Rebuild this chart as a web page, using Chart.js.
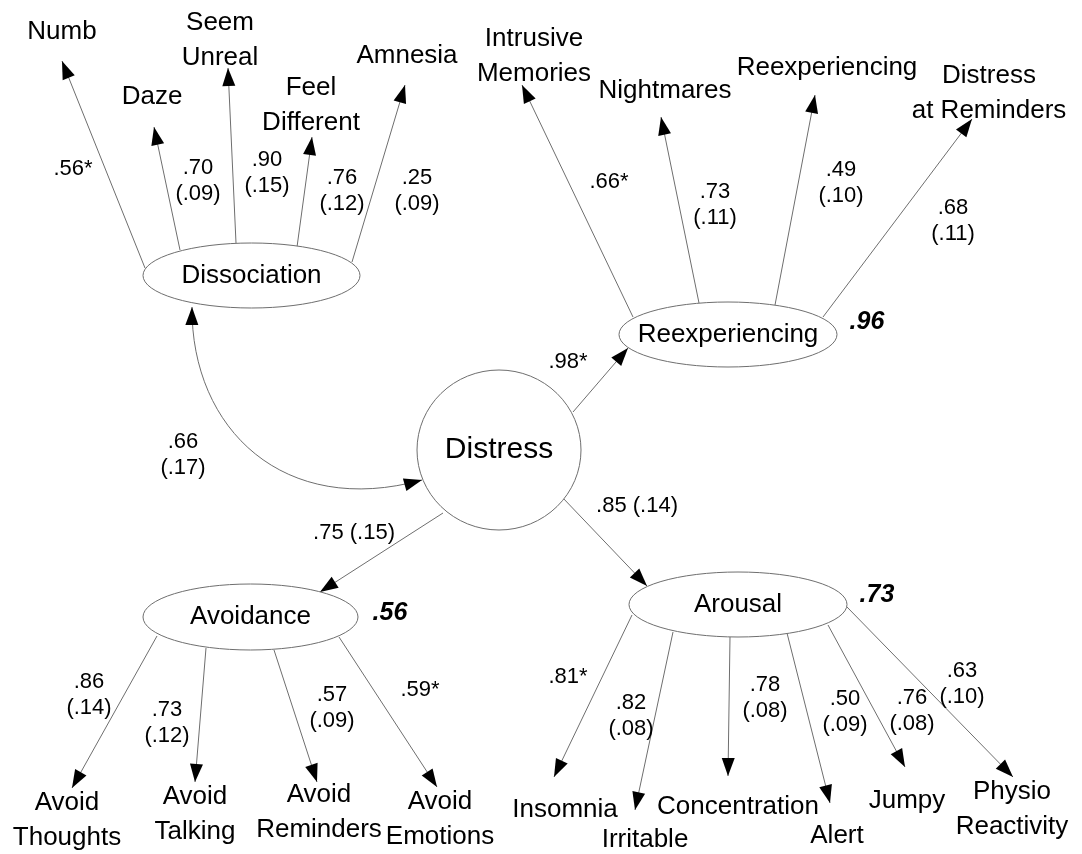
<!DOCTYPE html>
<html>
<head>
<meta charset="utf-8">
<script src="https://cdn.jsdelivr.net/npm/chart.js@4.4.1/dist/chart.umd.min.js"></script>
<style>
  html, body { margin: 0; padding: 0; background: #fff; }
  #wrap { width: 1082px; height: 854px; }
</style>
</head>
<body>
<div id="wrap"><canvas id="pathChart"></canvas></div>
<script>
// latent factors
const factorNames = ['Dissociation', 'Reexperiencing', 'Distress', 'Avoidance', 'Arousal'];
const factorR2 = ['', '.96', '', '.56', '.73'];

// structural paths out of Distress, and the Dissociation <-> Distress covariance
const pathLabels = ['.98*', '.75 (.15)', '.85 (.14)'];
const covLabel = ['.66', '(.17)'];

// observed indicators
const itemNames = ['Numb', 'Daze', 'Seem\nUnreal', 'Feel\nDifferent', 'Amnesia',
  'Intrusive\nMemories', 'Nightmares', 'Reexperiencing', 'Distress\nat Reminders',
  'Avoid\nThoughts', 'Avoid\nTalking', 'Avoid\nReminders', 'Avoid\nEmotions',
  'Insomnia', 'Irritable', 'Concentration', 'Alert', 'Jumpy', 'Physio\nReactivity'];
const itemLoadings = ['.56*', '.70', '.90', '.76', '.25',
  '.66*', '.73', '.49', '.68',
  '.86', '.73', '.57', '.59*',
  '.81*', '.82', '.78', '.50', '.76', '.63'];
const itemSE = ['', '(.09)', '(.15)', '(.12)', '(.09)',
  '', '(.11)', '(.10)', '(.11)',
  '(.14)', '(.12)', '(.09)', '',
  '', '(.08)', '(.08)', '(.09)', '(.08)', '(.10)'];

// layout, in figure units (0..1082 x 0..854)
const factorPos = [[251.5, 275.5], [728, 334.5], [499, 450], [250.5, 617], [738, 604.5]];
const factorSize = [[108.5, 32.5], [109, 32.5], [82, 80], [107.5, 33], [109, 32.5]];
const factorR2Pos = [null, [867, 322], null, [390, 613], [877, 595]];

const itemTextPos = [[62, 32], [152, 97], [220, 23], [311, 88], [407, 56],
  [534, 39], [665, 91], [827, 68], [989, 76],
  [67, 803], [195, 797], [319, 795], [440, 802],
  [565, 810], [645, 840], [738, 807], [837, 836], [907, 801], [1012, 792]];
const itemFrom = [[145, 268], [180, 250], [236, 243], [297, 247], [352, 262],
  [633, 317], [699, 303], [775, 305], [823, 317],
  [157, 636], [206, 648], [274, 650], [339, 637],
  [632, 615], [673, 632], [730, 637], [787, 633], [828, 625], [847, 607]];
const itemTo = [[62, 61], [154, 127], [228, 68], [312, 137], [405, 85],
  [522, 85], [661, 117], [815, 95], [972, 119],
  [72, 788], [195, 782], [317, 782], [437, 787],
  [554, 777], [635, 810], [728, 776], [830, 803], [905, 767], [1013, 777]];
const itemLabelPos = [[73, 169], [198, 168], [267, 160], [342, 178], [417, 178],
  [609, 182], [715, 192], [841, 170], [953, 208],
  [89, 682], [167, 710], [332, 695], [420, 690],
  [568, 677], [631, 703], [765, 685], [845, 699], [912, 698], [962, 671]];

const pathFrom = [[573, 412], [443, 513], [562, 497]];
const pathTo = [[628, 348], [320, 592], [647, 586]];
const pathLabelPos = [[568, 362], [354, 533], [637, 506]];

const covCurve = [[192, 307], [191, 430], [285, 518], [422, 480]];
const covLabelPos = [183, 442];

const lineColor = '#6e6e6e';
const fontFamily = "'Liberation Sans', Arial, sans-serif";

// one line dataset per straight arrow
const datasets = [];
itemFrom.forEach((p, i) => {
  datasets.push({
    data: [{ x: p[0], y: p[1] }, { x: itemTo[i][0], y: itemTo[i][1] }],
    showLine: true, borderColor: lineColor, borderWidth: 1, pointRadius: 0
  });
});
pathFrom.forEach((p, i) => {
  datasets.push({
    data: [{ x: p[0], y: p[1] }, { x: pathTo[i][0], y: pathTo[i][1] }],
    showLine: true, borderColor: lineColor, borderWidth: 1, pointRadius: 0
  });
});

function arrowHead(ctx, fx, fy, tx, ty) {
  const a = Math.atan2(ty - fy, tx - fx);
  const len = 18, hw = 6.5;
  ctx.beginPath();
  ctx.moveTo(tx, ty);
  ctx.lineTo(tx - len * Math.cos(a) + hw * Math.sin(a), ty - len * Math.sin(a) - hw * Math.cos(a));
  ctx.lineTo(tx - len * Math.cos(a) - hw * Math.sin(a), ty - len * Math.sin(a) + hw * Math.cos(a));
  ctx.closePath();
  ctx.fillStyle = '#000';
  ctx.fill();
}

function multiText(ctx, text, x, y, gap) {
  text.split('\n').forEach((t, k) => ctx.fillText(t, x, y + k * gap));
}

const diagramPlugin = {
  id: 'diagramPlugin',
  afterDatasetsDraw(chart) {
    const ctx = chart.ctx;
    const sx = chart.scales.x, sy = chart.scales.y;
    const px = v => sx.getPixelForValue(v);
    const py = v => sy.getPixelForValue(v);
    ctx.save();

    // covariance curve
    ctx.beginPath();
    ctx.moveTo(px(covCurve[0][0]), py(covCurve[0][1]));
    ctx.bezierCurveTo(px(covCurve[1][0]), py(covCurve[1][1]), px(covCurve[2][0]), py(covCurve[2][1]),
      px(covCurve[3][0]), py(covCurve[3][1]));
    ctx.strokeStyle = lineColor;
    ctx.lineWidth = 1;
    ctx.stroke();
    arrowHead(ctx, px(covCurve[1][0]), py(covCurve[1][1]), px(covCurve[0][0]), py(covCurve[0][1]));
    arrowHead(ctx, px(covCurve[2][0]), py(covCurve[2][1]), px(covCurve[3][0]), py(covCurve[3][1]));

    // arrowheads
    itemFrom.forEach((p, i) => arrowHead(ctx, px(p[0]), py(p[1]), px(itemTo[i][0]), py(itemTo[i][1])));
    pathFrom.forEach((p, i) => arrowHead(ctx, px(p[0]), py(p[1]), px(pathTo[i][0]), py(pathTo[i][1])));

    // latent ellipses
    factorPos.forEach((p, i) => {
      ctx.beginPath();
      ctx.ellipse(px(p[0]), py(p[1]), factorSize[i][0], factorSize[i][1], 0, 0, Math.PI * 2);
      ctx.fillStyle = '#fff';
      ctx.fill();
      ctx.strokeStyle = lineColor;
      ctx.lineWidth = 1;
      ctx.stroke();
    });

    ctx.textAlign = 'center';
    ctx.textBaseline = 'middle';
    ctx.fillStyle = '#000';

    factorNames.forEach((n, i) => {
      ctx.font = (i === 2 ? '30px ' : '26px ') + fontFamily;
      ctx.fillText(n, px(factorPos[i][0]), py(factorPos[i][1]));
    });

    ctx.font = 'italic bold 25px ' + fontFamily;
    factorR2.forEach((r, i) => {
      if (r) ctx.fillText(r, px(factorR2Pos[i][0]), py(factorR2Pos[i][1]));
    });

    ctx.font = '26px ' + fontFamily;
    itemNames.forEach((n, i) => multiText(ctx, n, px(itemTextPos[i][0]), py(itemTextPos[i][1]), 35));

    ctx.font = '22px ' + fontFamily;
    itemLoadings.forEach((l, i) => {
      const txt = itemSE[i] ? l + '\n' + itemSE[i] : l;
      multiText(ctx, txt, px(itemLabelPos[i][0]), py(itemLabelPos[i][1]), 26);
    });
    pathLabels.forEach((l, i) => ctx.fillText(l, px(pathLabelPos[i][0]), py(pathLabelPos[i][1])));
    multiText(ctx, covLabel.join('\n'), px(covLabelPos[0]), py(covLabelPos[1]), 26);

    ctx.restore();
  }
};

new Chart(document.getElementById('pathChart'), {
  type: 'scatter',
  data: { datasets: datasets },
  options: {
    responsive: true,
    maintainAspectRatio: false,
    animation: false,
    layout: { padding: 0 },
    scales: {
      x: { type: 'linear', min: 0, max: 1082, display: false },
      y: { type: 'linear', min: 0, max: 854, reverse: true, display: false }
    },
    plugins: { legend: { display: false }, tooltip: { enabled: false } }
  },
  plugins: [diagramPlugin]
});
</script>
</body>
</html>
